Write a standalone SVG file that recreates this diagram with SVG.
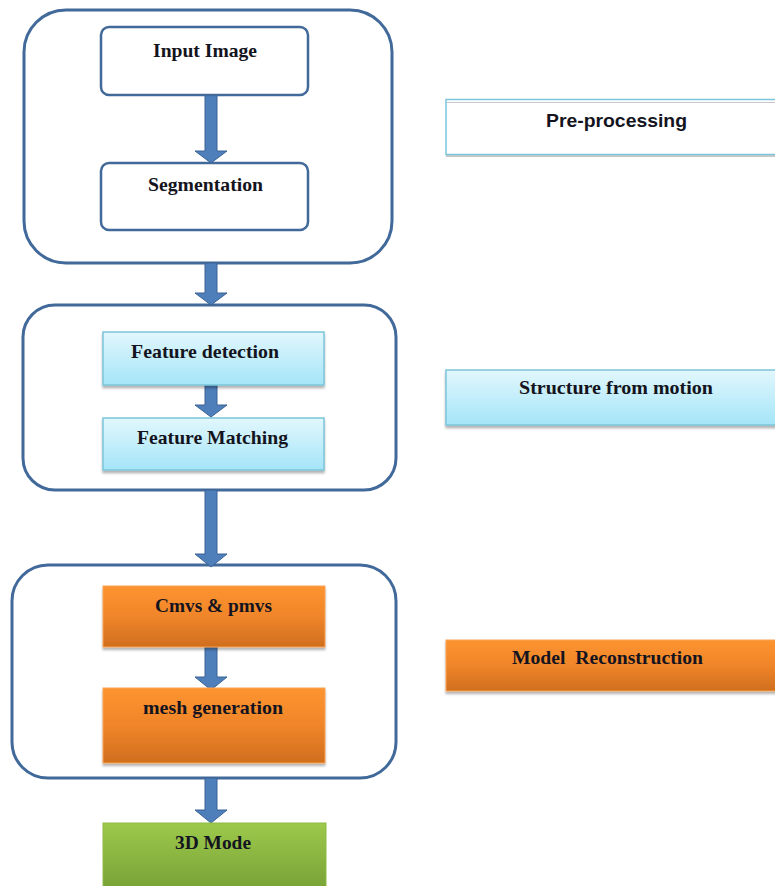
<svg xmlns="http://www.w3.org/2000/svg" width="775" height="886" viewBox="0 0 775 886">
<defs>
<linearGradient id="gBlue" x1="0" y1="0" x2="0" y2="1"><stop offset="0" stop-color="#e2f7fd"/><stop offset="1" stop-color="#a4e5f8"/></linearGradient>
<linearGradient id="gOrange" x1="0" y1="0" x2="0" y2="1"><stop offset="0" stop-color="#fd942f"/><stop offset="0.5" stop-color="#f0852a"/><stop offset="1" stop-color="#d06e1e"/></linearGradient>
<linearGradient id="gGreen" x1="0" y1="0" x2="0" y2="1"><stop offset="0" stop-color="#9dc94c"/><stop offset="1" stop-color="#76a035"/></linearGradient>
<filter id="sh" x="-5%" y="-10%" width="110%" height="130%"><feDropShadow dx="0" dy="2.5" stdDeviation="1.2" flood-color="#000" flood-opacity="0.3"/></filter>
</defs>
<style>
.grp{fill:#fff;stroke:#41699a;stroke-width:3}
.wbox{fill:#fff;stroke:#41699a;stroke-width:2.5}
.blue{fill:url(#gBlue);stroke:#7cc5da;stroke-width:1.5}
.orange{fill:url(#gOrange);stroke:#f7a356;stroke-width:1}
.green{fill:url(#gGreen);stroke:#8db948;stroke-width:1}
.t{font-family:"Liberation Serif","Times New Roman",serif;font-weight:bold;font-size:19px;fill:#141420;text-anchor:middle}
.ta{font-family:"Liberation Sans",Arial,sans-serif;font-weight:bold;font-size:19px;fill:#141420;text-anchor:middle}
.arr{fill:#4f7fbb;stroke:#3a6394;stroke-width:1}
</style>
<rect width="775" height="886" fill="#fff"/>

<g id="group-preprocessing"><rect class="grp" x="24" y="10" width="368" height="253" rx="42"/></g>
<g id="group-sfm"><rect class="grp" x="23" y="305" width="373" height="185" rx="32"/></g>
<g id="group-model"><rect class="grp" x="12" y="565" width="384" height="213" rx="36"/></g>

<g id="connectors">
<path class="arr" d="M205,95 H217 V151 H227 L211,163 L195,151 H205 Z"/>
<path class="arr" d="M205,263 H217 V293 H227 L211,305 L195,293 H205 Z"/>
<path class="arr" d="M205,385 H217 V405 H227 L211,417 L195,405 H205 Z"/>
<path class="arr" d="M205,490 H217 V554 H227 L211,567 L195,554 H205 Z"/>
<path class="arr" d="M205,647 H217 V677 H227 L211,690 L195,677 H205 Z"/>
<path class="arr" d="M205,778 H217 V810 H227 L211,823 L195,810 H205 Z"/>
</g>

<g id="input-image"><rect class="wbox" x="101" y="27" width="207" height="68" rx="8"/><text class="t" x="205" y="57" textLength="104" lengthAdjust="spacingAndGlyphs">Input Image</text></g>
<g id="segmentation"><rect class="wbox" x="101" y="163" width="207" height="67" rx="8"/><text class="t" x="205.5" y="191" textLength="115" lengthAdjust="spacingAndGlyphs">Segmentation</text></g>

<g id="feature-detection"><rect class="blue" x="103" y="332" width="221" height="53" filter="url(#sh)"/><text class="t" x="205" y="358" textLength="148" lengthAdjust="spacingAndGlyphs">Feature detection</text></g>
<g id="feature-matching"><rect class="blue" x="103" y="418" width="221" height="52" filter="url(#sh)"/><text class="t" x="212.5" y="444" textLength="151" lengthAdjust="spacingAndGlyphs">Feature Matching</text></g>

<g id="cmvs-pmvs"><rect class="orange" x="103" y="586" width="222" height="61" filter="url(#sh)"/><text class="t" x="213.5" y="612" textLength="117" lengthAdjust="spacingAndGlyphs">Cmvs &amp; pmvs</text></g>
<g id="mesh-generation"><rect class="orange" x="103" y="688" width="222" height="75" filter="url(#sh)"/><text class="t" x="213" y="714" textLength="140" lengthAdjust="spacingAndGlyphs">mesh generation</text></g>

<g id="model-3d"><rect class="green" x="103" y="823" width="223" height="70"/><text class="t" x="213" y="849" textLength="76" lengthAdjust="spacingAndGlyphs">3D Mode</text></g>

<g id="label-preprocessing">
<rect x="446" y="101" width="335" height="56" fill="#c8c8c8"/>
<rect x="446" y="99.5" width="335" height="55" fill="#fff" stroke="#7cc5da" stroke-width="1.5"/>
<line x1="447" y1="102.5" x2="775" y2="102.5" stroke="#c8c8c8" stroke-width="1.2"/>
<text class="ta" x="616.5" y="127" textLength="141" lengthAdjust="spacingAndGlyphs">Pre-processing</text>
</g>
<g id="label-sfm"><rect class="blue" x="446" y="370" width="335" height="55" filter="url(#sh)"/><text class="t" x="616" y="394" textLength="194" lengthAdjust="spacingAndGlyphs">Structure from motion</text></g>
<g id="label-model"><rect class="orange" x="446" y="640" width="335" height="51" filter="url(#sh)"/><text class="t" x="607.5" y="664" xml:space="preserve" textLength="191" lengthAdjust="spacingAndGlyphs">Model  Reconstruction</text></g>
</svg>
